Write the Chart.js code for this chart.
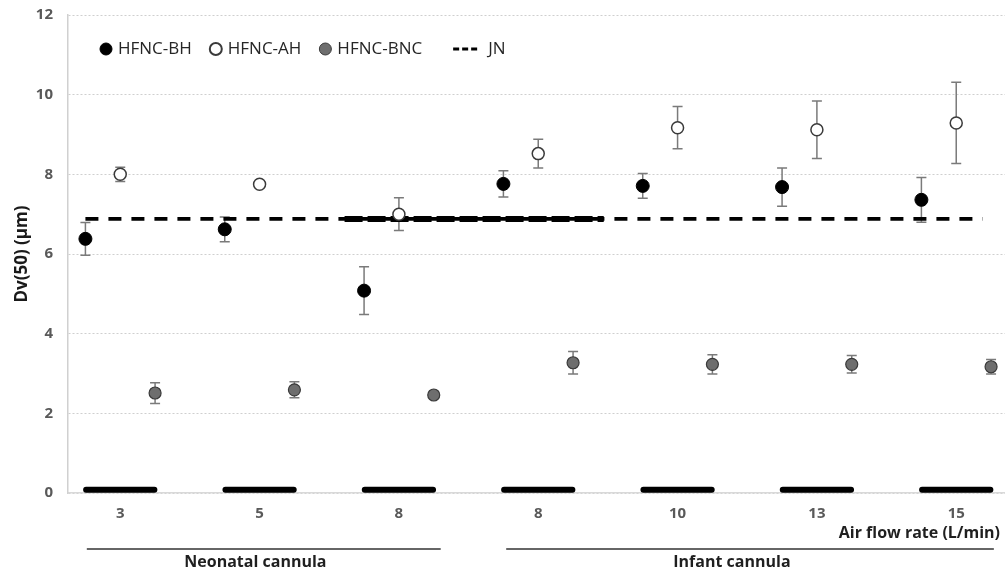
<!DOCTYPE html>
<html>
<head>
<meta charset="utf-8">
<title>Dv(50) vs air flow rate</title>
<script src="https://cdn.jsdelivr.net/npm/chart.js@4.4.1/dist/chart.umd.min.js"></script>
<style>
  html, body { margin: 0; padding: 0; background: #fff; }
  canvas { display: block; }
</style>
</head>
<body>
<canvas id="dvChart" width="1005" height="572"></canvas>
<script>
// =========================
// DATA
// =========================
const flowRates = ["3", "5", "8", "8", "10", "13", "15"];

const bhValues  = [6.38, 6.62, 5.08, 7.76, 7.71, 7.68, 7.36];
const bhErrors  = [0.41, 0.31, 0.60, 0.33, 0.31, 0.48, 0.56];

const ahValues  = [8.00, 7.75, 7.00, 8.52, 9.17, 9.12, 9.29];
const ahErrors  = [0.18, 0.05, 0.41, 0.36, 0.53, 0.72, 1.02];

const bncValues = [2.51, 2.59, 2.46, 3.27, 3.23, 3.23, 3.17];
const bncErrors = [0.26, 0.20, 0.05, 0.28, 0.24, 0.22, 0.18];

const jnValue = 6.88;
const jnSpan = [-0.25, 6.19];
const jnBoldSpan = [1.61, 3.47];

const baseMarks = [0.08, 0.08, 0.08, 0.08, 0.08, 0.08, 0.08];

const yTicks = [0, 2, 4, 6, 8, 10, 12];

const groupNames   = ["Neonatal cannula", "Infant cannula"];
const groupFrom    = [-0.24, 2.77];
const groupTo      = [2.30, 6.27];
const groupLabelAt = [0.97, 4.39];

const xAxisTitle = "Air flow rate (L/min)";
const yAxisTitle = "Dv(50) (\u03bcm)";

const FONT = "'Open Sans', 'DejaVu Sans', sans-serif";


// =========================
// HELPERS
// =========================
function points(values, offset) {
  return values.map((v, i) => ({ x: i + offset, y: v }));
}

function baseMarkPoints(values) {
  const out = [];
  values.forEach((v, i) => {
    out.push({ x: i - 0.245, y: v });
    out.push({ x: i + 0.245, y: v });
    out.push({ x: i + 0.5, y: null });
  });
  return out;
}


// =========================
// PLUGINS
// =========================
const errorBarPlugin = {
  id: "errorBars",
  beforeDatasetsDraw(chart) {
    const { ctx, scales: { x, y } } = chart;
    ctx.save();
    ctx.strokeStyle = "#7a7a7a";
    ctx.lineWidth = 1.5;
    chart.data.datasets.forEach((ds, di) => {
      if (!ds.errors || !chart.isDatasetVisible(di)) return;
      ds.data.forEach((p, i) => {
        const px = x.getPixelForValue(p.x);
        const top = y.getPixelForValue(p.y + ds.errors[i]);
        const bottom = y.getPixelForValue(p.y - ds.errors[i]);
        ctx.beginPath();
        ctx.moveTo(px, top);
        ctx.lineTo(px, bottom);
        ctx.moveTo(px - 5, top);
        ctx.lineTo(px + 5, top);
        ctx.moveTo(px - 5, bottom);
        ctx.lineTo(px + 5, bottom);
        ctx.stroke();
      });
    });
    ctx.restore();
  }
};

// legend sits inside the plot, in one row
const legendPlugin = {
  id: "inlineLegend",
  afterDraw(chart) {
    const { ctx, chartArea } = chart;
    const ds = chart.data.datasets;
    const y = chartArea.top + 34;
    let x = chartArea.left + 38;

    ctx.save();
    ctx.font = "17px " + FONT;
    ctx.textBaseline = "middle";
    ctx.textAlign = "left";

    [0, 1, 2].forEach(i => {
      const d = ds[i];
      ctx.beginPath();
      ctx.arc(x, y, 6, 0, Math.PI * 2);
      ctx.fillStyle = d.backgroundColor;
      ctx.fill();
      ctx.lineWidth = i === 1 ? 2 : 1;
      ctx.strokeStyle = d.borderColor;
      ctx.stroke();
      ctx.fillStyle = "#262626";
      ctx.fillText(d.label, x + 12, y);
      x += 12 + ctx.measureText(d.label).width + 24;
    });

    // JN entry: "---"
    const jn = ds[3];
    const dashStart = x + 7;
    ctx.fillStyle = jn.borderColor;
    for (let k = 0; k < 3; k++) {
      ctx.fillRect(dashStart + k * 9, y - 1.5, 6, 3);
    }
    ctx.fillStyle = "#262626";
    ctx.fillText(jn.label, dashStart + 35, y);
    ctx.restore();
  }
};

const groupPlugin = {
  id: "groups",
  afterDraw(chart) {
    const { ctx, chartArea, scales: { x } } = chart;
    ctx.save();
    ctx.strokeStyle = "#333";
    ctx.lineWidth = 1.5;
    ctx.fillStyle = "#1f1f1f";
    ctx.font = "bold 16px " + FONT;
    ctx.textBaseline = "middle";

    const lineY = chartArea.bottom + 56;
    groupNames.forEach((name, i) => {
      ctx.beginPath();
      ctx.moveTo(x.getPixelForValue(groupFrom[i]), lineY);
      ctx.lineTo(x.getPixelForValue(groupTo[i]), lineY);
      ctx.stroke();
      ctx.textAlign = "center";
      ctx.fillText(name, x.getPixelForValue(groupLabelAt[i]), lineY + 13);
    });

    ctx.textAlign = "right";
    ctx.fillText(xAxisTitle, chartArea.right - 5, chartArea.bottom + 40);
    ctx.restore();
  }
};


// =========================
// RENDER CHART
// =========================
new Chart(document.getElementById("dvChart"), {
  type: "scatter",
  data: {
    datasets: [
      {
        label: "HFNC-BH",
        data: points(bhValues, -0.25),
        errors: bhErrors,
        pointRadius: 6.5,
        pointBorderWidth: 1,
        backgroundColor: "#000",
        borderColor: "#000"
      },
      {
        label: "HFNC-AH",
        data: points(ahValues, 0),
        errors: ahErrors,
        pointRadius: 6,
        pointBorderWidth: 1.5,
        backgroundColor: "#fff",
        borderColor: "#3a3a3a"
      },
      {
        label: "HFNC-BNC",
        data: points(bncValues, 0.25),
        errors: bncErrors,
        pointRadius: 6,
        pointBorderWidth: 1.2,
        backgroundColor: "#6e6e6e",
        borderColor: "#3a3a3a"
      },
      {
        label: "JN",
        data: jnSpan.map(x => ({ x, y: jnValue })),
        showLine: true,
        pointRadius: 0,
        borderColor: "#000",
        backgroundColor: "#000",
        borderWidth: 3.7,
        borderDash: [13, 10],
        borderCapStyle: "butt"
      },
      {
        label: "JN overlap",
        data: jnBoldSpan.map(x => ({ x, y: jnValue })),
        showLine: true,
        pointRadius: 0,
        borderColor: "#000",
        borderWidth: 6,
        borderDash: [18, 5],
        borderCapStyle: "butt"
      },
      {
        label: "base",
        data: baseMarkPoints(baseMarks),
        showLine: true,
        spanGaps: false,
        pointRadius: 0,
        borderColor: "#000",
        borderWidth: 6,
        borderCapStyle: "round"
      }
    ]
  },
  options: {
    responsive: false,
    animation: false,
    events: [],
    layout: { autoPadding: false, padding: { top: 15, left: 0, right: 0, bottom: 0 } },
    scales: {
      x: {
        type: "linear",
        min: -0.375,
        max: 6.35,
        afterFit(s) { s.height = 79; },
        afterBuildTicks(s) { s.ticks = flowRates.map((_, i) => ({ value: i })); },
        grid: { display: false, drawTicks: false },
        border: { display: true, color: "#d9d9d9", width: 1.5 },
        ticks: {
          autoSkip: false,
          padding: 12,
          color: "#595959",
          font: { family: FONT, size: 15, weight: "bold" },
          callback: (v, i) => flowRates[i]
        }
      },
      y: {
        min: 0,
        max: 12,
        afterFit(s) { s.width = 68; },
        afterBuildTicks(s) { s.ticks = yTicks.map(v => ({ value: v })); },
        // invisible tick marks keep the labels off the axis without adding top padding
        grid: { color: "#cfcfcf", lineWidth: 1, drawTicks: true, tickLength: 15, tickColor: "rgba(0,0,0,0)" },
        border: { display: true, color: "#d0d0d0", width: 1.5, dash: [2, 2] },
        ticks: {
          padding: 0,
          color: "#595959",
          font: { family: FONT, size: 15, weight: "bold" }
        },
        title: {
          display: true,
          text: yAxisTitle,
          color: "#1a1a1a",
          padding: { top: 12, bottom: 0 },
          font: { family: FONT, size: 17, weight: "bold" }
        }
      }
    },
    plugins: {
      tooltip: { enabled: false },
      legend: { display: false }
    }
  },
  plugins: [errorBarPlugin, legendPlugin, groupPlugin]
});
</script>
</body>
</html>
